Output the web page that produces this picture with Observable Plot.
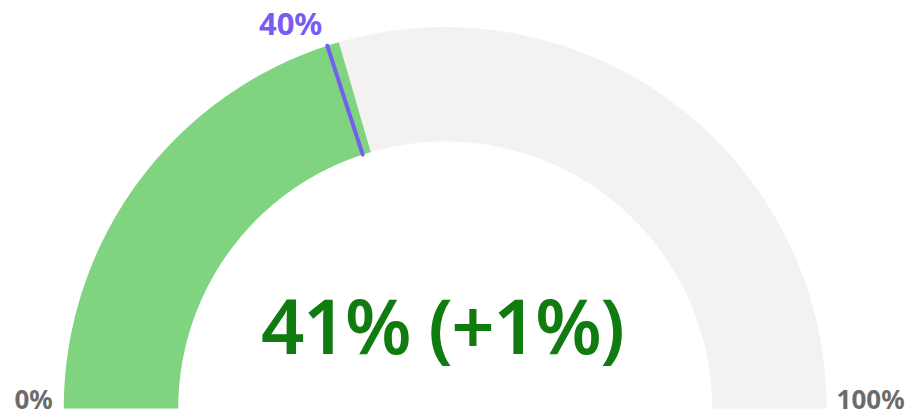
<!DOCTYPE html>
<html><head><meta charset="utf-8">
<script src="https://cdn.jsdelivr.net/npm/d3@7"></script>
<script src="https://cdn.jsdelivr.net/npm/@observablehq/plot@0.6"></script>
<style>html,body{margin:0;padding:0;background:#fff;overflow:hidden}</style>
</head><body><div id="chart"></div>
<script>
// ---- data ----
const gaugeMin = 0;
const gaugeMax = 100;
const bandNames = ["track", "value"];
const bandFrom = [0, 0];
const bandTo = [100, 41];
const bandColors = ["#f3f2f1", "#80d47f"];
const targetValues = [40];
const targetLabels = ["40%"];
const endValues = [0, 100];
const endLabels = ["0%", "100%"];
const calloutLabels = ["41% (+1%)"];

// ---- geometry (unit circle: outer radius = 1) ----
const innerRatio = 0.7;
const angle = v => Math.PI * (1 - (v - gaugeMin) / (gaugeMax - gaugeMin));
function arcPoints(name, v0, v1) {
  const pts = [];
  const n = 120;
  for (let i = 0; i <= n; i++) {
    const a = angle(v0 + (v1 - v0) * i / n);
    pts.push({band: name, x: Math.cos(a), y: Math.sin(a)});
  }
  for (let i = n; i >= 0; i--) {
    const a = angle(v0 + (v1 - v0) * i / n);
    pts.push({band: name, x: innerRatio * Math.cos(a), y: innerRatio * Math.sin(a)});
  }
  return pts;
}
const bandMarks = bandNames.map((b, i) =>
  Plot.line(arcPoints(b, bandFrom[i], bandTo[i]), {x: "x", y: "y", fill: bandColors[i], stroke: "none", curve: "linear"})
);
const targetSegs = targetValues.flatMap((t, i) => [
  {id: i, x: Math.cos(angle(t)), y: Math.sin(angle(t))},
  {id: i, x: innerRatio * Math.cos(angle(t)), y: innerRatio * Math.sin(angle(t))}
]);
const targetText = targetValues.map((t, i) => ({x: Math.cos(angle(t)), y: Math.sin(angle(t)), label: targetLabels[i]}));
const endText = endValues.map((v, i) => ({x: Math.cos(angle(v)), y: Math.sin(angle(v)), label: endLabels[i], anchor: i === 0 ? "end" : "start"}));

const W = 909, H = 415, CX = 444.7, CY = 408, R = 381.4;
const font = "'Segoe UI', 'Noto Sans', 'Open Sans', sans-serif";

const chart = Plot.plot({
  width: W, height: H,
  margin: 0,
  x: {domain: [-CX / R, (W - CX) / R], range: [0, W], axis: null},
  y: {domain: [-(H - CY) / R, CY / R], range: [H, 0], axis: null},
  style: {fontFamily: font, background: "#fff"},
  marks: [
    ...bandMarks,
    Plot.line(targetSegs, {x: "x", y: "y", z: "id", stroke: "#7460ee", strokeWidth: 4}),
    Plot.text(targetText, {x: "x", y: "y", text: "label", fill: "#7a5cf3", fontSize: 31, fontWeight: "bold", textAnchor: "end", lineAnchor: "bottom", dx: -5, dy: -11}),
    Plot.text(endText.filter(d => d.anchor === "end"), {x: "x", y: "y", text: "label", fill: "#6b6b6b", fontSize: 26, fontWeight: "bold", textAnchor: "end", lineAnchor: "bottom", dx: -11}),
    Plot.text(endText.filter(d => d.anchor === "start"), {x: "x", y: "y", text: "label", fill: "#6b6b6b", fontSize: 26, fontWeight: "bold", textAnchor: "start", lineAnchor: "bottom", dx: 10}),
    Plot.text(calloutLabels, {x: () => 0, y: () => (CY - 353) / R, text: d => d, fill: "#107c10", fontSize: 76, fontWeight: 600, textAnchor: "middle", lineAnchor: "bottom", dx: -3})
  ]
});
chart.querySelectorAll("text").forEach(t => { if (t.textContent === calloutLabels[0]) t.setAttribute("letter-spacing", "-1.5"); });
document.getElementById("chart").appendChild(chart);
</script>
</body></html>
